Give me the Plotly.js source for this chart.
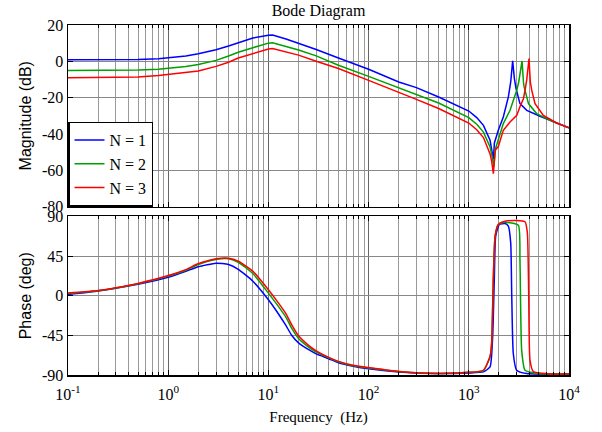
<!DOCTYPE html>
<html><head><meta charset="utf-8">
<script src="https://cdn.plot.ly/plotly-3.0.1.min.js"></script>
<style>html,body{margin:0;padding:0;background:#fff}#chart{width:602px;height:432px}</style>
</head><body><div id="chart"></div>
<script>
// ---- data ----
const seriesNames = ['N = 1', 'N = 2', 'N = 3'];

const magFreq1 = [0.1,0.2,0.3,0.5,0.8,1,1.5,2,3,4,5,7,10,11,15,20,30,50,100,200,300,500,1000,1200,1400,1630,1690,1760,1800,1970,2210,2480,2620,2740,2850,2960,3240,3790,5140,6970,10000];
const mag1 = [0.8,0.8,0.9,1.0,1.4,1.8,2.9,4.2,6.4,8.4,10.3,12.8,14.4,14.5,12.3,9.9,6.5,1.8,-4.4,-11.4,-14.5,-19.7,-27.4,-31,-35.3,-43.5,-48,-54,-45,-38,-30.7,-19.7,-11.4,0.2,-9.5,-15,-23.3,-27,-30.3,-33.4,-36.7];

const magFreq2 = [0.1,0.2,0.3,0.5,0.8,1,1.5,2,3,4,5,7,10,11,15,20,30,50,100,200,300,500,1000,1200,1400,1630,1690,1780,1850,1970,2210,2580,3010,3150,3240,3400,3510,3560,3940,4750,6970,10000];
const mag2 = [-5,-5,-5,-4.8,-4.4,-3.9,-2.9,-1.8,0.5,2.9,5,7.5,10,10.2,8.3,6.2,3,-2.2,-8.3,-14.5,-18.2,-23,-31,-34.7,-39,-47.2,-51,-58,-48,-43.5,-34.3,-27,-16,-11.4,-6.8,0.2,-11.4,-14,-23.3,-28.8,-33.4,-36.7];

const magFreq3 = [0.1,0.2,0.3,0.5,0.8,1,1.5,2,3,4,5,7,10,11,15,20,30,50,100,200,300,500,1000,1200,1400,1630,1690,1760,1830,1970,2210,2580,3010,3240,3510,3640,3780,3990,4110,4250,4580,5550,7530,10000];
const mag3 = [-9,-9,-8.9,-8.6,-7.8,-7.2,-6.2,-5.3,-2.8,-0.5,1.8,4.2,6.8,7.0,5.3,3.4,0,-4,-10.5,-16.9,-21,-26,-34,-37.7,-42,-51,-55,-61.9,-49,-47,-38,-33.4,-29.8,-25,-20.6,-16,-10.5,1.5,-11.4,-16,-23.3,-29.8,-34,-36.7];

const phFreq1 = [0.1,0.2,0.3,0.5,1,1.5,2,3,4,5,7,10,12,15,17,20,25,30,40,50,70,100,200,500,1000,1400,1630,1730,1800,1855,2020,2300,2480,2620,2680,2780,3000,3780,10000];
const ph1 = [1.5,5.5,8.5,13,21,27.8,33,37,35.5,30,16.5,-4.5,-17,-34,-44.5,-53.5,-61,-66,-71.5,-76,-80,-83,-86.5,-88.4,-87.7,-86.5,-80.8,-46.5,22,67.8,81,82,79,60,3,-65.6,-84.6,-88.4,-89];

const phFreq2 = [0.1,0.2,0.3,0.5,1,1.5,2,3,4,5,7,10,12,15,17,20,25,30,40,50,70,100,200,500,1000,1400,1630,1690,1760,1830,1970,2300,3120,3240,3370,3640,4760,10000];
const ph2 = [2.5,5.7,8.8,13.7,22.3,29,35.5,41.2,42,38,25.2,3,-9,-24.5,-36.5,-48.5,-58,-64,-70.5,-75,-79.5,-82,-86,-88.4,-87,-85,-69,-54,22,67.8,81,83.5,80,41,-61.8,-84.6,-88,-89];

const phFreq3 = [0.1,0.2,0.3,0.5,1,1.5,2,3,4,5,7,10,12,15,17,20,25,30,40,50,70,100,200,500,1000,1400,1630,1690,1760,1830,1970,2300,3000,3640,3840,3960,4080,4410,5990,10000];
const ph3 = [3,5.9,9,14,22.9,29.7,36.6,42,42.7,39.3,27.8,6.9,-5,-20.5,-32.5,-45.5,-56,-62.5,-70,-74.5,-79,-81.5,-86,-88.2,-87,-84.6,-69,-54,22,67.8,81,84.5,85.5,84,71.7,3,-73,-86,-88.5,-89];

const freqTickVals = [0.1, 1, 10, 100, 1000, 10000];
const freqTickText = ['10<sup>-1</sup>', '10<sup>0</sup>', '10<sup>1</sup>', '10<sup>2</sup>', '10<sup>3</sup>', '10<sup>4</sup>'];
const magTickVals = [20, 0, -20, -40, -60, -80];
const magTickText = ['20', '0', '-20', '-40', '-60', '-80'];
const phTickVals = [90, 45, 0, -45, -90];
const phTickText = ['90', '45', '0', '-45', '-90'];

// ---- styling ----
const colors = ['#0000ff', '#00a000', '#ff0000'];
const serif = '"Liberation Serif", "Times New Roman", serif';
const sans = '"Liberation Sans", Arial, sans-serif';

const minorVals = [];
for (let e = -1; e < 4; e++) for (let d = 2; d <= 9; d++) minorVals.push(d * Math.pow(10, e));

const magF = [magFreq1, magFreq2, magFreq3], magV = [mag1, mag2, mag3];
const phF = [phFreq1, phFreq2, phFreq3], phV = [ph1, ph2, ph3];

const traces = [];
for (let i = 0; i < 3; i++) {
  traces.push({x: magF[i], y: magV[i], type: 'scatter', mode: 'lines', name: seriesNames[i],
    line: {color: colors[i], width: 1.5}, xaxis: 'x', yaxis: 'y'});
}
for (let i = 0; i < 3; i++) {
  traces.push({x: phF[i], y: phV[i], type: 'scatter', mode: 'lines', showlegend: false,
    line: {color: colors[i], width: 1.5, shape: 'spline', smoothing: 0.5}, xaxis: 'x2', yaxis: 'y2'});
}

function xAxis(anchor, labels) {
  return {
    type: 'log', range: [-1, 4], anchor: anchor,
    tickmode: 'array', tickvals: freqTickVals, ticktext: labels ? freqTickText : freqTickVals.map(() => ''),
    ticks: 'inside', ticklen: 5, tickcolor: '#000', tickwidth: 1,
    showline: true, linecolor: '#000', linewidth: 1.5, mirror: 'ticks',
    showgrid: true, gridcolor: '#666', gridwidth: 1, zeroline: false,
    minor: {tickmode: 'array', tickvals: minorVals, ticks: 'inside', ticklen: 3, tickcolor: '#000',
            showgrid: true, gridcolor: '#999', gridwidth: 1},
    ticklabelstandoff: 4,
    tickfont: {family: serif, size: 16, color: '#000'}
  };
}
function yAxis(anchor, domain, range, vals, text, title) {
  return {
    domain: domain, range: range, anchor: anchor,
    tickmode: 'array', tickvals: vals, ticktext: text,
    ticks: 'inside', ticklen: 5, tickcolor: '#000',
    showline: true, linecolor: '#000', linewidth: 1.5, mirror: 'ticks',
    showgrid: true, gridcolor: '#888', gridwidth: 1, zeroline: false,
    tickfont: {family: serif, size: 16, color: '#000'},
    title: {text: title, font: {family: sans, size: 16, color: '#000'}, standoff: 6}
  };
}

const xa2 = xAxis('y2', true);
xa2.title = {text: 'Frequency&nbsp; (Hz)', font: {family: serif, size: 15, color: '#000'}, standoff: 10};

const layout = {
  width: 602, height: 432,
  margin: {l: 68, r: 33, t: 25, b: 57},
  paper_bgcolor: '#fff', plot_bgcolor: '#fff',
  title: {text: 'Bode Diagram', font: {family: serif, size: 16, color: '#000'},
          x: 0.5, xref: 'paper', xanchor: 'center', y: 0.975, yref: 'container', yanchor: 'middle'},
  xaxis: xAxis('y', false),
  xaxis2: xa2,
  yaxis: yAxis('x', [0.4814, 1], [-80, 20], magTickVals, magTickText, 'Magnitude (dB)'),
  yaxis2: yAxis('x2', [0, 0.4529], [-90, 90], phTickVals, phTickText, 'Phase (deg)'),
  showlegend: true,
  legend: {x: 0, y: 0.4814, xref: 'paper', yref: 'paper', xanchor: 'left', yanchor: 'bottom',
           bgcolor: '#fff', bordercolor: '#000', borderwidth: 1.5,
           font: {family: serif, size: 16, color: '#000'}, tracegroupgap: 0}
};

Plotly.newPlot('chart', traces, layout, {displayModeBar: false, staticPlot: true});
</script>
</body></html>
